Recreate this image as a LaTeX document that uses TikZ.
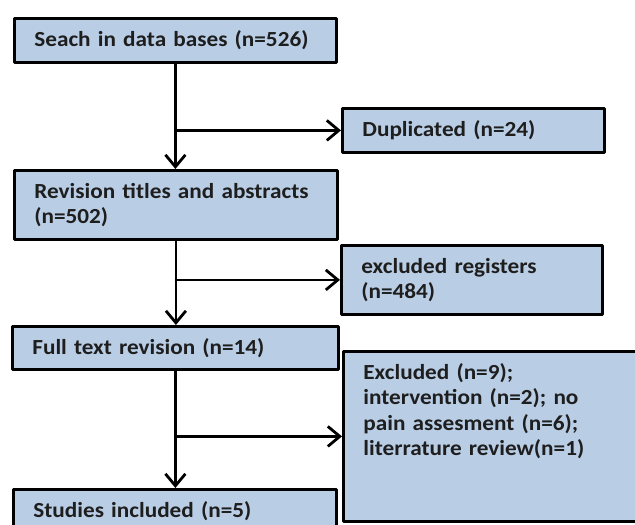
\documentclass[tikz,border=0pt]{standalone}
\usepackage{fontspec}
\setmainfont{Carlito}[FakeStretch=1.08]
\usetikzlibrary{arrows.meta}
\definecolor{boxblue}{HTML}{B9CDE5}
\definecolor{boxtext}{HTML}{1E1E1E}
\tikzset{
	box/.style={rectangle,draw=black,fill=boxblue,line width=2.8pt,anchor=north west,align=left,
		inner xsep=20pt,inner ysep=0pt,text=boxtext,font=\fontsize{21.5}{25.5}\selectfont\bfseries},
	flow/.style={line width=2.8pt,->},
}

\begin{document}
\begin{tikzpicture}[line cap=round,line join=round,>={Straight Barb[length=12pt,width=20pt]},x=1pt,y=-1pt]
		\clip (0,0) rectangle (635,525);
		% main column
		\node[box,text width=282pt,minimum height=44pt] (search) at (13,17) {Seach in data bases (n=526)};
		\node[box,text width=283pt,minimum height=69pt] (revision) at (13,169) {Revision titles and abstracts\\(n=502)};
		\node[box,text width=286pt,minimum height=43pt] (fulltext) at (11,325) {Full text revision (n=14)};
		\node[box,text width=283pt,minimum height=43pt] (included) at (12,488) {Studies included (n=5)};
		% side boxes
		\node[box,text width=222pt,minimum height=44pt] (dup) at (341,107) {Duplicated (n=24)};
		\node[box,text width=221pt,minimum height=69pt] (registers) at (340,244) {excluded registers\\(n=484)};
		\node[box,text width=260pt,text height=28pt,text depth=142pt] (excluded) at (342,350) {Excluded (n=9);\\intervention (n=2); no\\pain assesment (n=6);\\literrature review(n=1)};
		% arrows down
		\draw[flow] (search.south) -- (search.south |- revision.north);
		\draw[flow] (revision.south) -- (revision.south |- fulltext.north);
		\draw[flow] (fulltext.south) -- (fulltext.south |- included.north);
		% arrows to the side
		\draw[flow] (search.south |- dup.west) -- (dup.west);
		\draw[flow] (revision.south |- registers.west) -- (registers.west);
		\draw[flow] (fulltext.south |- excluded.west) -- (excluded.west);
	\end{tikzpicture}
\end{document}
